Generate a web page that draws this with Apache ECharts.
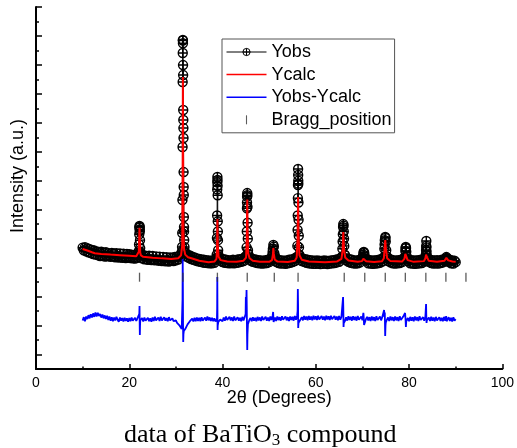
<!DOCTYPE html>
<html>
<head>
<meta charset="utf-8">
<script src="https://cdn.jsdelivr.net/npm/echarts@6/dist/echarts.min.js"></script>
<style>
  html, body { margin: 0; padding: 0; background: #fff; }
  #chart { width: 517px; height: 448px; }
</style>
</head>
<body>
<div id="chart"></div>
<script>
// Rietveld refinement of BaTiO3 powder diffraction pattern.
// Observed and difference curves are sampled on a 0.25° grid starting at 10°,
// with extra points across each reflection.
const gridStart = 10;
const gridStep = 0.25;

const obsGrid = [
  838, 820, 842, 812, 834, 806, 828, 800, 822, 794, 818, 790, 812, 786, 808, 780, 810, 782, 804, 776,
  806, 778, 800, 784, 774, 802, 778, 798, 772, 800, 780, 770, 798, 776, 768, 796, 774, 766, 794, 772,
  792, 766, 790, 764, 788, 762, 786, 768, 798, 962, 794, 764, 786, 758, 782, 760, 754, 782, 758, 752,
  780, 756, 750, 778, 754, 748, 776, 752, 746, 774, 750, 744, 772, 748, 742, 770, 748, 768, 746, 774,
  750, 776, 756, 782, 774, 808, 2268, 950, 806, 776, 790, 768, 784, 760, 776, 754, 770, 748, 764, 744,
  760, 740, 756, 736, 754, 734, 752, 732, 750, 730, 748, 730, 750, 734, 758, 790, 950, 776, 748, 762,
  738, 758, 734, 754, 732, 752, 730, 750, 732, 754, 730, 752, 734, 756, 736, 758, 740, 762, 746, 770,
  780, 1150, 795, 778, 748, 762, 740, 758, 736, 754, 732, 752, 730, 750, 728, 748, 730, 752, 732, 754,
  738, 762, 750, 810, 845, 780, 740, 756, 732, 752, 728, 750, 730, 748, 726, 750, 730, 754, 734, 756,
  738, 760, 746, 770, 772, 1280, 782, 770, 746, 762, 740, 758, 734, 754, 730, 752, 728, 750, 726, 748,
  726, 750, 728, 748, 724, 746, 726, 750, 728, 748, 724, 746, 728, 750, 730, 752, 732, 754, 736, 758,
  740, 764, 768, 880, 950, 786, 750, 764, 740, 758, 734, 754, 730, 750, 728, 750, 730, 752, 736, 760,
  770, 805, 776, 748, 758, 730, 752, 728, 750, 726, 750, 728, 752, 730, 754, 734, 758, 742, 768, 860,
  880, 778, 746, 760, 736, 754, 730, 750, 728, 750, 730, 752, 732, 754, 738, 760, 768, 835, 778, 744,
  756, 730, 752, 728, 750, 726, 750, 728, 752, 730, 754, 732, 756, 742, 770, 810, 764, 740, 754, 732,
  752, 728, 750, 730, 752, 728, 750, 732, 754, 736, 756, 744, 773, 762, 740, 754, 730, 750, 728, 748,
  738
];

// Extra observed points across the reflections [2θ, intensity]
const obsPeaks = [
  [22.06, 815], [22.1, 860], [22.14, 930], [22.18, 975], [22.2, 988], [22.22, 982], [22.26, 950],
  [22.3, 890], [22.34, 835], [22.4, 800], [22.46, 785],
  [31.28, 800], [31.32, 843], [31.36, 939], [31.4, 1167], [31.43, 1533], [31.45, 1982], [31.47, 2182],
  [31.49, 2272], [31.51, 2250], [31.53, 2099], [31.55, 2030], [31.57, 1789], [31.59, 1720], [31.61, 1664],
  [31.63, 1595], [31.65, 1360], [31.67, 1257], [31.69, 1202], [31.71, 1050], [31.74, 981], [31.78, 891],
  [31.84, 843], [31.92, 800],
  [38.7, 760], [38.8, 905], [38.84, 1060], [38.86, 1240], [38.88, 1290], [38.9, 1326], [38.92, 1305],
  [38.94, 1265], [38.96, 1200], [38.98, 1020], [39.02, 890], [39.06, 820], [39.1, 790], [39.16, 765],
  [45.1, 770], [45.16, 840], [45.2, 950], [45.24, 1110], [45.27, 1190], [45.3, 1215], [45.32, 1200],
  [45.35, 1120], [45.38, 1010], [45.42, 900], [45.46, 820], [45.56, 765],
  [50.6, 760], [50.7, 790], [50.8, 830], [50.9, 856], [51.1, 800], [51.2, 765],
  [56.05, 850], [56.1, 960], [56.13, 1060], [56.16, 1180], [56.18, 1270], [56.2, 1381], [56.22, 1340],
  [56.24, 1300], [56.28, 1150], [56.31, 1030], [56.35, 920], [56.4, 840], [56.46, 790], [56.55, 765],
  [65.6, 775], [65.7, 830], [65.8, 930], [65.85, 980], [65.9, 1001], [65.95, 990], [66.05, 900],
  [66.1, 850], [66.2, 790], [66.3, 765],
  [70.1, 760], [70.2, 790], [70.3, 808], [70.4, 800],
  [74.6, 770], [74.7, 830], [74.8, 890], [74.9, 912], [74.95, 905], [75.1, 820], [75.2, 775],
  [79.1, 770], [79.2, 815], [79.3, 843], [79.35, 835], [79.4, 810],
  [83.6, 790], [83.65, 820], [83.68, 850], [83.7, 884], [83.72, 840], [83.8, 785], [83.9, 760],
  [87.8, 750], [87.9, 765], [88.1, 765], [88.2, 750]
];

// Calculated profile [2θ, intensity]
const calcPoints = [
  [10, 829], [11, 818], [12, 806], [12.6, 799], [14, 795], [16, 790], [18, 786], [20, 782], [21.5, 779],
  [21.9, 785], [22.05, 810], [22.15, 930], [22.2, 975], [22.25, 925], [22.35, 805], [22.5, 784], [23, 775],
  [25, 769], [27, 764], [29, 760], [30.5, 765], [31.1, 785], [31.35, 850], [31.45, 1400], [31.5, 2017],
  [31.55, 1500], [31.62, 950], [31.75, 830], [32, 790], [32.6, 772], [33.5, 763], [35, 748], [37, 738],
  [38.3, 743], [38.7, 760], [38.82, 830], [38.9, 1036], [38.98, 860], [39.15, 775], [39.6, 752], [41, 743],
  [43, 741], [44.5, 748], [45.05, 770], [45.2, 900], [45.3, 1170], [45.38, 950], [45.5, 800], [45.8, 765],
  [46.5, 748], [48, 740], [50, 740], [50.6, 752], [50.8, 790], [50.9, 836], [51.0, 795], [51.2, 755],
  [51.8, 742], [54, 739], [55.5, 748], [55.9, 770], [56.1, 900], [56.2, 1188], [56.3, 920], [56.5, 785],
  [57, 755], [58.5, 742], [62, 737], [64.5, 742], [65.5, 760], [65.75, 820], [65.9, 946], [66.05, 830],
  [66.3, 770], [67, 750], [69, 740], [69.9, 745], [70.2, 762], [70.3, 773], [70.4, 760], [70.8, 744],
  [72.5, 739], [74.2, 744], [74.6, 765], [74.8, 850], [74.9, 891], [75.0, 840], [75.3, 765], [76, 745],
  [78.5, 742], [79.0, 760], [79.2, 795], [79.3, 808], [79.4, 785], [79.7, 752], [81, 740], [83.2, 745],
  [83.5, 765], [83.65, 790], [83.7, 794], [83.8, 775], [84.2, 748], [86, 740], [87.6, 748], [88.0, 768],
  [88.4, 750], [89.3, 742], [90, 740]
];

const diffGrid = [
  335, 358, 330, 362, 345, 372, 350, 378, 356, 384, 360, 390, 362, 388, 366, 380, 355, 376, 350, 370,
  345, 368, 338, 362, 334, 358, 330, 355, 336, 360, 340, 326, 356, 334, 352, 328, 354, 332, 350, 326,
  352, 330, 356, 334, 326, 354, 332, 350, 345, 270, 330, 352, 328, 356, 334, 324, 354, 330, 350, 326,
  356, 332, 360, 336, 326, 356, 332, 360, 336, 328, 358, 334, 352, 330, 358, 336, 324, 350, 330, 322,
  336, 318, 322, 302, 300, 276, 560, 262, 276, 286, 308, 314, 330, 326, 348, 328, 354, 330, 356, 332,
  354, 330, 358, 334, 326, 356, 334, 362, 336, 356, 332, 354, 330, 350, 328, 330, 310, 318, 342, 354,
  330, 356, 334, 362, 338, 328, 360, 336, 356, 332, 362, 336, 326, 358, 334, 354, 330, 360, 336, 358,
  497, 250, 312, 338, 352, 330, 358, 334, 354, 330, 360, 336, 356, 332, 362, 338, 330, 360, 334, 356,
  332, 362, 338, 368, 330, 356, 332, 362, 338, 358, 334, 364, 340, 330, 362, 336, 358, 332, 362, 338,
  360, 334, 366, 340, 368, 300, 322, 344, 358, 336, 366, 340, 362, 336, 366, 340, 362, 336, 368, 342,
  364, 338, 368, 342, 334, 366, 340, 362, 336, 368, 342, 364, 338, 368, 344, 334, 366, 340, 362, 336,
  366, 340, 360, 372, 318, 332, 358, 334, 364, 338, 360, 334, 364, 338, 360, 334, 366, 340, 330, 362,
  336, 372, 316, 344, 360, 336, 358, 332, 362, 336, 358, 332, 364, 338, 328, 362, 336, 358, 362, 356,
  320, 340, 356, 332, 362, 336, 358, 332, 362, 336, 358, 332, 364, 338, 328, 362, 356, 340, 332, 352,
  330, 360, 334, 358, 330, 362, 336, 358, 332, 364, 338, 328, 358, 334, 362, 318, 330, 356, 332, 360,
  334, 356, 330, 360, 336, 326, 358, 332, 354, 330, 360, 334, 354, 326, 358, 332, 354, 328, 358, 334,
  344
];

// Extra difference points across the reflections [2θ, intensity]
const diffPeaks = [
  [22.1, 345], [22.15, 380], [22.2, 435], [22.23, 330], [22.27, 235], [22.31, 300], [22.36, 335],
  [31.38, 265], [31.42, 480], [31.46, 760], [31.53, 320], [31.57, 186], [31.62, 240], [31.7, 262],
  [31.85, 268],
  [38.8, 345], [38.85, 420], [38.88, 635], [38.91, 420], [38.94, 269], [38.97, 300], [39.1, 325],
  [44.95, 380], [45.05, 400], [45.1, 470], [45.15, 546], [45.2, 420], [45.3, 131], [45.35, 240],
  [45.45, 310],
  [50.85, 394], [50.95, 325],
  [56.1, 400], [56.15, 552], [56.2, 450], [56.23, 283], [56.3, 320],
  [65.85, 497], [65.9, 420], [65.95, 290],
  [70.2, 387], [70.3, 345], [70.35, 304],
  [74.65, 407], [74.72, 360], [74.8, 390], [74.88, 228], [74.95, 300],
  [79.15, 387], [79.32, 290], [79.4, 330],
  [83.65, 449], [83.7, 370], [83.8, 335],
  [87.95, 365], [88.05, 330]
];

const braggPositions = [22.2, 31.5, 38.9, 45.3, 51.1, 56.2, 66.1, 70.5, 74.9, 79.2, 83.6, 87.9, 92.2];
const braggLevel = 634;

const xTicks = [0, 20, 40, 60, 80, 100];
const yMajorTicks = [100, 300, 500, 700, 900, 1100, 1300, 1500, 1700, 1900, 2100, 2300, 2500];

function gridPairs(values) {
  return values.map((v, i) => [Math.round((gridStart + i * gridStep) * 100) / 100, v]);
}
function merged(a, b) {
  return a.concat(b).sort((p, q) => p[0] - q[0]);
}

const obsData = merged(gridPairs(obsGrid), obsPeaks);
const diffData = merged(gridPairs(diffGrid), diffPeaks);
const braggData = braggPositions.map(x => [x, braggLevel]);

const circlePlus = 'path://M0,-10A10,10,0,1,1,0,10A10,10,0,1,1,0,-10Z M-10,0L10,0 M0,-10L0,10';
const sans = 'Liberation Sans';

const chart = echarts.init(document.getElementById('chart'), null, { renderer: 'canvas' });
chart.setOption({
  animation: false,
  backgroundColor: '#fff',
  title: {
    text: '{a|data of BaTiO}{s|3}{a| compound}',
    left: 124,
    top: 420,
    padding: 0,
    textStyle: {
      fontWeight: 'normal',
      rich: {
        a: { fontFamily: 'Liberation Serif', fontWeight: 'normal', fontSize: 26, color: '#000', lineHeight: 30 },
        s: { fontFamily: 'Liberation Serif', fontWeight: 'normal', fontSize: 17, color: '#000', lineHeight: 30, padding: [12, 0, 0, 0] }
      }
    }
  },
  legend: {
    orient: 'vertical',
    left: 222,
    top: 39,
    padding: [4, 3, 4, 4],
    itemWidth: 40,
    itemHeight: 9,
    itemGap: 4.6,
    borderColor: '#555',
    borderWidth: 1,
    textStyle: { fontFamily: sans, fontSize: 18, color: '#000', lineHeight: 18 },
    data: [
      { name: 'Yobs', lineStyle: { width: 1 }, itemStyle: { borderWidth: 1 } },
      { name: 'Ycalc', icon: 'path://M0,0 M40,9 M0,3.75 h40 v1.5 h-40 z' },
      { name: 'Yobs-Ycalc', icon: 'path://M0,0 M40,9 M0,3.75 h40 v1.5 h-40 z' },
      { name: 'Bragg_position', icon: 'path://M0,0 M40,9 M19.4,-0.5 h1.2 v10 h-1.2 z' }
    ]
  },
  grid: { left: 36, right: 13, top: 7, bottom: 79 },
  xAxis: {
    type: 'value',
    min: xTicks[0],
    max: xTicks[xTicks.length - 1],
    interval: 20,
    name: '2θ (Degrees)',
    nameLocation: 'middle',
    nameGap: 20,
    nameMoveOverlap: false,
    nameTextStyle: { fontFamily: sans, fontSize: 18, color: '#000', padding: [0, 0, 0, 20] },
    axisLine: { lineStyle: { color: '#000', width: 2 } },
    axisTick: { inside: true, length: 5, lineStyle: { color: '#000', width: 1.5 } },
    minorTick: { show: true, splitNumber: 2, length: 2.5, lineStyle: { color: '#000', width: 1.5 } },
    axisLabel: { fontFamily: sans, fontSize: 14, color: '#000', margin: 7 },
    splitLine: { show: false }
  },
  yAxis: [
    {
      type: 'value',
      min: 0,
      max: 2500,
      interval: 100,
      name: 'Intensity (a.u.)',
      nameLocation: 'middle',
      nameGap: 9,
      nameMoveOverlap: false,
      nameTextStyle: { fontFamily: sans, fontSize: 18, color: '#000', padding: [0, 0, 0, 24] },
      axisLine: { show: true, lineStyle: { color: '#000', width: 2 } },
      axisTick: { inside: true, length: 3, lineStyle: { color: '#000', width: 1.5 } },
      axisLabel: { show: false },
      splitLine: { show: false }
    },
    {
      type: 'value',
      min: 0,
      max: 2500,
      position: 'left',
      axisLine: { show: false },
      axisTick: { show: true, inside: true, length: 6, customValues: yMajorTicks, lineStyle: { color: '#000', width: 1.5 } },
      axisLabel: { show: false },
      splitLine: { show: false }
    }
  ],
  series: [
    {
      name: 'Yobs',
      type: 'line',
      data: obsData,
      symbol: circlePlus,
      symbolSize: 9,
      showSymbol: true,
      showAllSymbol: true,
      lineStyle: { color: '#000', width: 1 },
      itemStyle: { color: 'rgba(255,255,255,0)', borderColor: '#000', borderWidth: 1.4 },
      z: 2
    },
    {
      name: 'Ycalc',
      type: 'line',
      data: calcPoints,
      showSymbol: false,
      symbol: 'none',
      lineStyle: { color: '#ff0000', width: 2 },
      itemStyle: { color: '#ff0000' },
      z: 3
    },
    {
      name: 'Yobs-Ycalc',
      type: 'line',
      data: diffData,
      showSymbol: false,
      symbol: 'none',
      lineStyle: { color: '#0000ff', width: 1.8 },
      itemStyle: { color: '#0000ff' },
      z: 3
    },
    {
      name: 'Bragg_position',
      type: 'scatter',
      data: braggData,
      symbol: 'rect',
      symbolSize: [1.3, 9],
      itemStyle: { color: '#333' },
      z: 3
    }
  ]
});
</script>
</body>
</html>
